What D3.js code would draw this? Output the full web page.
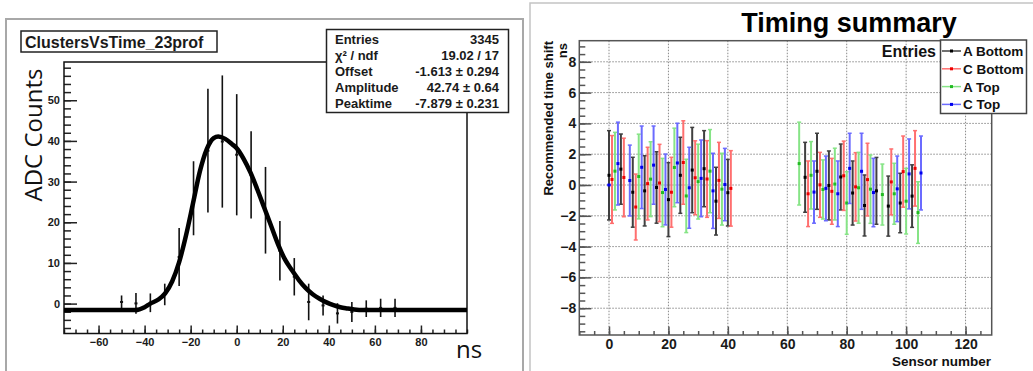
<!DOCTYPE html>
<html>
<head>
<meta charset="utf-8">
<script src="https://cdn.jsdelivr.net/npm/d3@7/dist/d3.min.js"></script>
<style>
  body { margin: 0; background: #fff; }
  svg text { font-family: "Liberation Sans", Arial, sans-serif; }
</style>
</head>
<body>
<div id="chart"></div>
<script>
// Profil ClustersVsTime_23prof (temps en ns, moyenne ADC, erreur)
const profTime = [-50, -43.75, -37.5, -31.25, -25, -18.75, -12.5, -6.25, 0, 6.25,
                  12.5, 18.75, 25, 31.25, 37.5, 43.75, 50, 56.25, 62.5, 68.75];
const profMean = [0.4, 0.05, 0.2, 2.25, 11.45, 25.9, 37.6, 39.85, 36.6, 31.65,
                  22.95, 13.0, 6.6, 0.4, -0.45, -2.4, -2.05, -1.25, -1.05, -1.05];
const profErr  = [1.6, 2.55, 2.3, 2.65, 7.15, 9.1, 15.2, 16.25, 14.9, 10.75,
                  10.65, 7.3, 4.6, 4.5, 2.45, 2.5, 2.45, 2.05, 2.25, 2.25];

// Courbe d'ajustement
const fitTime  = [-75, -44, -40, -37.5, -34, -31, -28, -25, -22, -19, -16, -13, -10, -8, -5, -2,
                  0, 3, 6, 9, 12, 15, 18, 21, 24, 27, 30, 33, 36, 39, 42, 45, 48, 51, 55, 100];
const fitValue = [-1.6, -1.6, -0.9, 0.0, 1.0, 2.6, 5.5, 10.2, 16.8, 24.6, 32.5, 38.0, 40.7, 41.1, 40.5, 39.2,
                  38.2, 35.6, 32.2, 28.0, 23.5, 19.0, 14.5, 10.8, 8.2, 5.8, 3.8, 2.3, 1.2, 0.3, -0.4, -0.9, -1.2, -1.45, -1.6, -1.6];

// Boîte de statistiques
const statLabels = ["Entries", "χ² / ndf", "Offset", "Amplitude", "Peaktime"];
const statValues = ["3345", "19.02 / 17", "-1.613 ± 0.294", "42.74 ± 0.64", "-7.879 ± 0.231"];

// Timing summary : quatre séries (capteur, décalage, erreur)
const seriesNames = ["A Bottom", "C Bottom", "A Top", "C Top"];
const aBottomSensor = [0, 4, 8, 12, 16, 20, 24, 28, 32, 36, 40, 66, 70, 74, 78, 82, 86, 90, 94, 98, 102];
const aBottomShift  = [0.63, 1.03, -0.47, -0.38, -0.16, -0.95, 0.63, 0.97, 1.06, -1.05, -0.5,
                       0.5, 0.89, -0.03, 0.52, -0.52, -1.33, -0.38, -1.37, -1.17, -0.72];
const aBottomErr    = [2.9, 2.28, 2.27, 2.28, 2.32, 2.4, 2.47, 2.77, 2.47, 2.2, 2.16,
                       2.27, 2.47, 2.24, 2.14, 2.08, 1.98, 2.17, 1.95, 1.93, 2.03];
const cBottomSensor = [1, 5, 9, 13, 17, 21, 25, 29, 33, 37, 41, 67, 71, 75, 79, 83, 87, 95, 99, 103];
const cBottomShift  = [0.36, 0.49, -1.43, 0.09, 0.13, -0.47, 1.46, 0.47, 0.39, 0.3, -0.22,
                       -0.57, 0.01, -0.41, 0.6, -0.12, 0.35, 0.2, 0.87, 1.08];
const cBottomErr    = [2.85, 2.55, 2.14, 2.36, 2.51, 2.27, 2.71, 2.4, 2.49, 2.47, 2.45,
                       2.13, 2.11, 2.14, 2.25, 2.22, 2.36, 2.14, 2.31, 2.45];
const aTopSensor    = [2, 10, 14, 18, 22, 26, 30, 34, 38, 64, 68, 72, 76, 80, 84, 88, 92, 96, 100, 104];
const aTopShift     = [0.9, 0.55, 0.38, -0.49, 1.14, -0.71, 0.22, 0.9, -0.27,
                       1.39, 0.63, -0.29, 0.06, -1.17, -0.18, -0.27, -0.62, -0.57, -1.05, -1.79];
const aTopErr       = [2.52, 2.75, 2.43, 2.22, 2.55, 2.38, 2.43, 2.7, 2.33,
                       2.69, 2.19, 1.92, 2.33, 2.03, 2.3, 2.22, 1.98, 1.98, 2.13, 2.0];
const cTopSensor    = [0, 3, 7, 11, 15, 19, 23, 27, 31, 35, 39, 69, 73, 77, 81, 85, 89, 97, 101, 105];
const cTopShift     = [0, 1.39, 0.29, 1.15, 1.29, -0.29, 1.43, -0.18, 0.43, -0.38, 0.03,
                       -0.46, -0.22, -0.57, 1.08, 0.89, -0.49, -0.25, 0.72, 0.78];
const cTopErr       = [0, 2.69, 2.3, 2.68, 2.54, 2.3, 2.58, 2.63, 2.49, 2.44, 2.35,
                       2.02, 2.1, 2.13, 2.28, 2.47, 2.22, 2.13, 2.27, 2.4];

const barColors    = ["#404040", "#ff6f6f", "#86e486", "#6b6bff"];
const markerColors = ["#000000", "#ee0000", "#22bb22", "#0000ee"];

const series = [
  { sensor: aBottomSensor, shift: aBottomShift, err: aBottomErr },
  { sensor: cBottomSensor, shift: cBottomShift, err: cBottomErr },
  { sensor: aTopSensor,    shift: aTopShift,    err: aTopErr },
  { sensor: cTopSensor,    shift: cTopShift,    err: cTopErr }
].map((s, i) => s.sensor.map((n, j) => ({ n, v: s.shift[j], e: s.err[j], k: i })));

// Création du SVG
const svg = d3.select("#chart")
  .append("svg")
  .attr("width", 1033)
  .attr("height", 371);

// Cadres gris des deux captures
svg.append("rect").attr("x", 6).attr("y", 19).attr("width", 517).attr("height", 370)
  .attr("fill", "none").attr("stroke", "#a8a8a8").attr("stroke-width", 2);
svg.append("rect").attr("x", 530).attr("y", 3).attr("width", 520).attr("height", 380)
  .attr("fill", "none").attr("stroke", "#c4c4c4").attr("stroke-width", 1.5);

function styleAxis(g, size, color) {
  g.select(".domain").remove();
  g.selectAll("line").attr("stroke", color).attr("stroke-width", 1.5);
  g.selectAll("text").attr("font-size", size).attr("font-weight", "bold").attr("fill", "#1a1a1a");
}

// ---------- Panneau de gauche ----------
const xL = d3.scaleLinear().domain([-75, 100]).range([64, 467]);
const yL = d3.scaleLinear().domain([-7.35, 59.4]).range([333.5, 62]);

// Graduations mineures puis majeures (vers l'intérieur)
svg.append("g").attr("transform", "translate(64,0)")
  .call(d3.axisLeft(yL).tickValues(d3.range(-6, 59, 2)).tickSize(-7).tickFormat(""))
  .call(g => styleAxis(g, 11, "#222"));
svg.append("g").attr("transform", "translate(64,0)")
  .call(d3.axisLeft(yL).tickValues([0, 10, 20, 30, 40, 50]).tickSize(-13).tickPadding(4))
  .call(g => styleAxis(g, 11, "#222"));
svg.append("g").attr("transform", "translate(0,333.5)")
  .call(d3.axisBottom(xL).tickValues(d3.range(-75, 101, 5)).tickSize(-4).tickFormat(""))
  .call(g => styleAxis(g, 11, "#222"));
svg.append("g").attr("transform", "translate(0,333.5)")
  .call(d3.axisBottom(xL).tickValues(d3.range(-60, 81, 20)).tickSize(-8).tickPadding(5))
  .call(g => styleAxis(g, 11, "#222"));

// Cadre du graphique
svg.append("rect").attr("x", 64).attr("y", 62).attr("width", 403).attr("height", 271.5)
  .attr("fill", "none").attr("stroke", "#111").attr("stroke-width", 1.5);

// Barres d'erreur du profil
const prof = profTime.map((t, i) => ({ t, m: profMean[i], e: profErr[i] }));
svg.append("g").selectAll("line")
  .data(prof)
  .enter()
  .append("line")
  .attr("x1", d => xL(d.t)).attr("x2", d => xL(d.t))
  .attr("y1", d => yL(d.m - d.e)).attr("y2", d => yL(d.m + d.e))
  .attr("stroke", "#111").attr("stroke-width", 1.6);
svg.append("g").selectAll("rect")
  .data(prof)
  .enter()
  .append("rect")
  .attr("x", d => xL(d.t) - 1.5).attr("y", d => yL(d.m) - 1)
  .attr("width", 3).attr("height", 2).attr("fill", "#111");

// Courbe d'ajustement
svg.append("path")
  .datum(fitTime.map((t, i) => [t, fitValue[i]]))
  .attr("d", d3.line().x(d => xL(d[0])).y(d => yL(d[1])).curve(d3.curveMonotoneX))
  .attr("fill", "none").attr("stroke", "#000").attr("stroke-width", 4.5);

// Titre dans une boîte
svg.append("rect").attr("x", 21).attr("y", 31).attr("width", 196).attr("height", 21)
  .attr("fill", "#fff").attr("stroke", "#222").attr("stroke-width", 1.5);
svg.append("text").attr("x", 25).attr("y", 47.5)
  .attr("font-size", 16).attr("font-weight", "bold").attr("fill", "#1a1a1a")
  .text("ClustersVsTime_23prof");

// Boîte de statistiques
svg.append("rect").attr("x", 326.5).attr("y", 29.5).attr("width", 182).attr("height", 83)
  .attr("fill", "#fff").attr("stroke", "#222").attr("stroke-width", 1.5);
const statRows = svg.append("g").selectAll("g")
  .data(statLabels)
  .enter()
  .append("g")
  .attr("transform", (d, i) => `translate(0, ${44 + i * 16})`);
statRows.append("text").attr("x", 335)
  .attr("font-size", 13).attr("font-weight", "bold").attr("fill", "#1a1a1a")
  .text(d => d);
statRows.append("text").attr("x", 499).attr("text-anchor", "end")
  .attr("font-size", 13).attr("font-weight", "bold").attr("fill", "#1a1a1a")
  .text((d, i) => statValues[i]);

// Titres des axes (police non ROOT)
svg.append("text")
  .attr("transform", "translate(42,135) rotate(-90)")
  .attr("text-anchor", "middle")
  .attr("font-size", 24).attr("fill", "#111")
  .style("font-family", "'Open Sans', sans-serif")
  .text("ADC Counts");
svg.append("text").attr("x", 456).attr("y", 358)
  .attr("font-size", 24).attr("fill", "#111")
  .style("font-family", "'Open Sans', sans-serif")
  .text("ns");

// ---------- Panneau de droite ----------
const xR = d3.scaleLinear().domain([-10, 128.8]).range([579.3, 991.7]);
const yR = d3.scaleLinear().domain([-9.74, 9.37]).range([335, 40.7]);

// Grille pointillée
const grid = svg.append("g").attr("stroke", "#8a8a8a").attr("stroke-width", 1).attr("stroke-dasharray", "1.5,1.5");
grid.selectAll(".gx").data(d3.range(0, 121, 20)).enter().append("line")
  .attr("x1", d => xR(d)).attr("x2", d => xR(d)).attr("y1", 40.7).attr("y2", 335);
grid.selectAll(".gy").data(d3.range(-8, 9, 2)).enter().append("line")
  .attr("x1", 579.3).attr("x2", 991.7).attr("y1", d => yR(d)).attr("y2", d => yR(d));

svg.append("g").attr("transform", "translate(579.3,0)")
  .call(d3.axisLeft(yR).tickValues(d3.range(-9.5, 9.1, 0.5)).tickSize(-6).tickFormat(""))
  .call(g => styleAxis(g, 14, "#555"));
svg.append("g").attr("transform", "translate(579.3,0)")
  .call(d3.axisLeft(yR).tickValues(d3.range(-8, 9, 2)).tickSize(-12).tickPadding(3))
  .call(g => styleAxis(g, 14, "#555"));
svg.append("g").attr("transform", "translate(0,335)")
  .call(d3.axisBottom(xR).tickValues(d3.range(-10, 129, 5)).tickSize(-4).tickFormat(""))
  .call(g => styleAxis(g, 14, "#555"));
svg.append("g").attr("transform", "translate(0,335)")
  .call(d3.axisBottom(xR).tickValues(d3.range(0, 121, 20)).tickSize(-8.5).tickPadding(4))
  .call(g => styleAxis(g, 14, "#555"));

svg.append("rect").attr("x", 579.3).attr("y", 40.7).attr("width", 412.4).attr("height", 294.3)
  .attr("fill", "none").attr("stroke", "#555").attr("stroke-width", 1.5);

// Barres d'erreur des quatre séries
series.forEach(pts => {
  const g = svg.append("g");
  const bars = g.selectAll("g").data(pts).enter().append("g");
  bars.append("line")
    .attr("x1", d => xR(d.n)).attr("x2", d => xR(d.n))
    .attr("y1", d => yR(d.v - d.e)).attr("y2", d => yR(d.v + d.e))
    .attr("stroke", d => barColors[d.k]).attr("stroke-width", 2);
  [-1, 1].forEach(s => {
    bars.append("line")
      .attr("x1", d => xR(d.n) - 2).attr("x2", d => xR(d.n) + 2)
      .attr("y1", d => yR(d.v + s * d.e)).attr("y2", d => yR(d.v + s * d.e))
      .attr("stroke", d => barColors[d.k]).attr("stroke-width", 1.5);
  });
  bars.append("rect")
    .attr("x", d => xR(d.n) - 1.5).attr("y", d => yR(d.v) - 1.5)
    .attr("width", 3).attr("height", 3)
    .attr("fill", d => markerColors[d.k]);
});

// Titre et titres des axes
svg.append("text").attr("x", 849).attr("y", 32).attr("text-anchor", "middle")
  .attr("font-size", 27).attr("font-weight", "bold").attr("fill", "#000")
  .text("Timing summary");
svg.append("text").attr("transform", "translate(553,41) rotate(-90)")
  .attr("text-anchor", "end").attr("font-size", 13).attr("font-weight", "bold").attr("fill", "#111")
  .text("Recommended time shift");
svg.append("text").attr("transform", "translate(567,43) rotate(-90)")
  .attr("text-anchor", "end").attr("font-size", 13).attr("font-weight", "bold").attr("fill", "#111")
  .text("ns");
svg.append("text").attr("x", 991).attr("y", 366).attr("text-anchor", "end")
  .attr("font-size", 13.5).attr("font-weight", "bold").attr("fill", "#111")
  .text("Sensor number");
svg.append("text").attr("x", 936).attr("y", 56.5).attr("text-anchor", "end")
  .attr("font-size", 16).attr("font-weight", "bold").attr("fill", "#111")
  .text("Entries");

// Légende
svg.append("rect").attr("x", 940.5).attr("y", 40).attr("width", 86).attr("height", 73.5)
  .attr("fill", "#fff").attr("stroke", "#444").attr("stroke-width", 1.5);
const legend = svg.append("g").selectAll("g")
  .data(seriesNames)
  .enter()
  .append("g")
  .attr("transform", (d, i) => `translate(0, ${51 + i * 17.8})`);
legend.append("line").attr("x1", 942).attr("x2", 961).attr("y1", 0).attr("y2", 0)
  .attr("stroke", (d, i) => barColors[i]).attr("stroke-width", 1.5);
legend.append("rect").attr("x", 950).attr("y", -1.5).attr("width", 3).attr("height", 3)
  .attr("fill", (d, i) => markerColors[i]);
legend.append("text").attr("x", 963).attr("y", 5)
  .attr("font-size", 13.5).attr("font-weight", "bold").attr("fill", "#111")
  .text(d => d);
</script>
</body>
</html>
